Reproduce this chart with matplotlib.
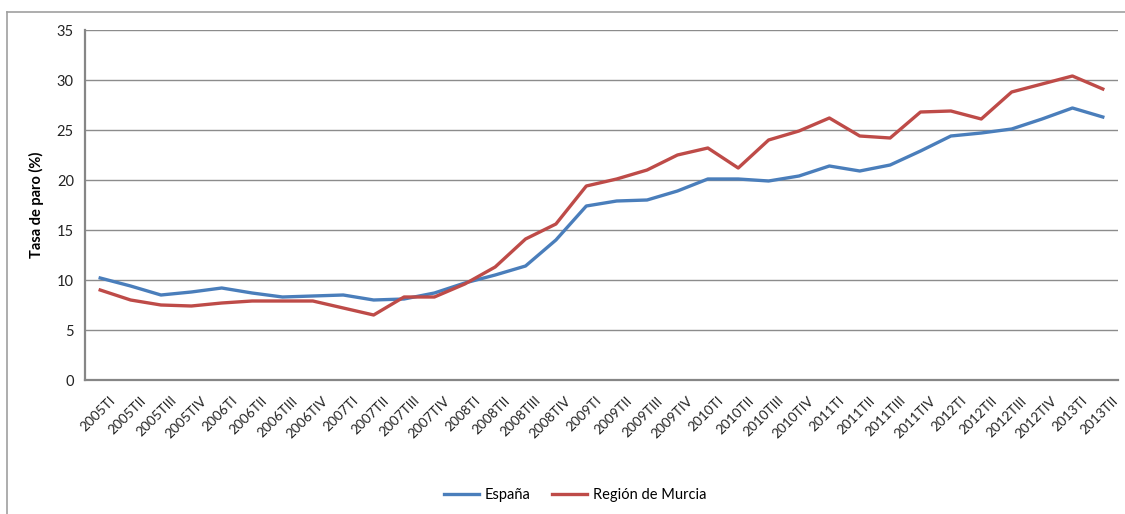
import matplotlib
matplotlib.use("Agg")
import matplotlib.pyplot as plt
import matplotlib.transforms as mtransforms
from matplotlib.lines import Line2D

# quarters 2005TI .. 2013TII
quarters = ["2005TI", "2005TII", "2005TIII", "2005TIV",
            "2006TI", "2006TII", "2006TIII", "2006TIV",
            "2007TI", "2007TII", "2007TIII", "2007TIV",
            "2008TI", "2008TII", "2008TIII", "2008TIV",
            "2009TI", "2009TII", "2009TIII", "2009TIV",
            "2010TI", "2010TII", "2010TIII", "2010TIV",
            "2011TI", "2011TII", "2011TIII", "2011TIV",
            "2012TI", "2012TII", "2012TIII", "2012TIV",
            "2013TI", "2013TII"]

espana = [10.2, 9.4, 8.5, 8.8, 9.2, 8.7, 8.3, 8.4, 8.5, 8.0, 8.1, 8.7,
          9.7, 10.5, 11.4, 14.0, 17.4, 17.9, 18.0, 18.9, 20.1, 20.1, 19.9, 20.4,
          21.4, 20.9, 21.5, 22.9, 24.4, 24.7, 25.1, 26.1, 27.2, 26.3]

murcia = [9.0, 8.0, 7.5, 7.4, 7.7, 7.9, 7.9, 7.9, 7.2, 6.5, 8.3, 8.3,
          9.6, 11.3, 14.1, 15.6, 19.4, 20.1, 21.0, 22.5, 23.2, 21.2, 24.0, 24.9,
          26.2, 24.4, 24.2, 26.8, 26.9, 26.1, 28.8, 29.6, 30.4, 29.1]

yticks = [0, 5, 10, 15, 20, 25, 30, 35]

BLUE = "#4A7EBB"
RED = "#BE4B48"
GRID = "#8C8C8C"
FONT = ["Lato", "DejaVu Sans"]

plt.rcParams["font.family"] = FONT

W, H = 1125, 514
fig = plt.figure(figsize=(W / 100, H / 100), dpi=100)
ax = fig.add_axes([85 / W, 1 - 380 / H, (1118 - 85) / W, (380 - 30) / H])

x = list(range(len(quarters)))
ax.plot(x, espana, color=BLUE, lw=2.4, solid_joinstyle="round", label="España", zorder=3)
ax.plot(x, murcia, color=RED, lw=2.4, solid_joinstyle="round", label="Región de Murcia", zorder=3)

ax.set_xlim(-0.5, len(quarters) - 0.5)
ax.set_ylim(0, 35)
ax.set_yticks(yticks)
ax.yaxis.grid(True, color=GRID, lw=1)
ax.set_axisbelow(True)
ax.tick_params(axis="y", length=0, pad=8, labelsize=10.5, colors="#222222")
ax.tick_params(axis="x", length=0, pad=6, labelsize=9.8, colors="#222222")
ax.set_xticks(x)
ax.set_xticklabels(quarters, rotation=45, ha="right", rotation_mode="anchor")
# nudge tick labels so their right end sits just right of the category centre
offset = mtransforms.ScaledTranslation(9 / 100, -6 / 100, fig.dpi_scale_trans)
for lbl in ax.get_xticklabels():
    lbl.set_transform(lbl.get_transform() + offset)

for s in ("top", "right"):
    ax.spines[s].set_visible(False)
for s in ("left", "bottom"):
    ax.spines[s].set_color("#868686")
    ax.spines[s].set_linewidth(1.6)

ax.set_ylabel("Tasa de paro (%)", fontsize=10.5, fontweight="bold", labelpad=9)

handles = [Line2D([], [], color=BLUE, lw=2.4), Line2D([], [], color=RED, lw=2.4)]
fig.legend(handles, ["España", "Región de Murcia"], loc="center",
           bbox_to_anchor=(575 / W, 1 - 495 / H), ncol=2, frameon=False,
           fontsize=10.5, handlelength=2.4, handletextpad=0.4, columnspacing=1.5)

# outer chart-area frame (cut off at right and bottom)
fig.add_artist(Line2D([7 / W, 7 / W], [0, 1 - 12 / H], transform=fig.transFigure,
                      color="#A0A0A0", lw=1.2))
fig.add_artist(Line2D([7 / W, 1], [1 - 12 / H, 1 - 12 / H], transform=fig.transFigure,
                      color="#A0A0A0", lw=1.2))

fig.savefig("out.png", dpi=100, facecolor="white")
